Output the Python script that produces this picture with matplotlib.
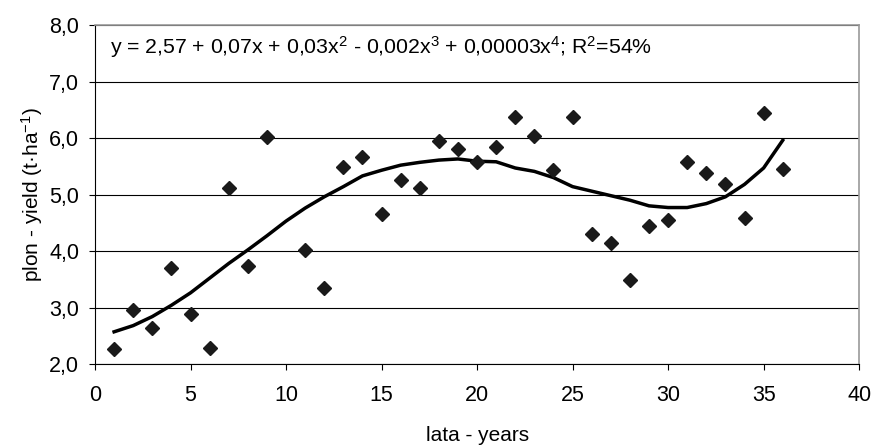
import matplotlib
matplotlib.use('Agg')
import matplotlib.pyplot as plt

plt.rcParams['font.family'] = ['Liberation Sans', 'DejaVu Sans']
plt.rcParams['mathtext.fontset'] = 'custom'
plt.rcParams['mathtext.rm'] = 'Liberation Sans'
plt.rcParams['mathtext.it'] = 'Liberation Sans'

# data
years = [1, 2, 3, 4, 5, 6, 7, 8, 9, 11, 12, 13, 14, 15, 16, 17, 18, 19, 20,
         21, 22, 23, 24, 25, 26, 27, 28, 29, 30, 31, 32, 33, 34, 35, 36]
yields = [2.27, 2.96, 2.64, 3.70, 2.88, 2.28, 5.11, 3.73, 6.02, 4.02, 3.35,
          5.49, 5.67, 4.65, 5.25, 5.11, 5.95, 5.81, 5.57, 5.85, 6.38, 6.03,
          5.43, 6.38, 4.30, 4.15, 3.49, 4.44, 4.55, 5.57, 5.39, 5.18, 4.58,
          6.45, 5.46]

# trend line (4th degree polynomial) as drawn in the chart
trend_x = list(range(1, 37))
trend_y = [2.57, 2.68, 2.84, 3.04, 3.26, 3.52, 3.78, 4.02, 4.27, 4.53, 4.76,
           4.96, 5.14, 5.33, 5.43, 5.52, 5.57, 5.61, 5.63, 5.59, 5.58, 5.47,
           5.41, 5.30, 5.14, 5.06, 4.98, 4.90, 4.80, 4.77, 4.77, 4.84, 4.96,
           5.18, 5.47, 5.96]

eq = (r'y = 2,57 + 0,07x + 0,03x$^{2}$ - 0,002x$^{3}$ + 0,00003x$^{4}$; '
      r'R$^{2}$=54%')

fig = plt.figure(figsize=(8.74, 4.48), dpi=100)
ax = fig.add_axes([0.1087, 0.1875, 0.8743, 0.7565])

ax.set_xlim(0, 40)
ax.set_ylim(2, 8)
ax.set_xticks(range(0, 41, 5))
ax.set_yticks(range(2, 9))
ax.set_yticklabels(['%d,0' % v for v in range(2, 9)])
ax.yaxis.grid(True, color='black', linewidth=0.8)
ax.set_axisbelow(True)

ax.plot(trend_x, trend_y, color='black', linewidth=2.5, zorder=2)
ax.plot(years, yields, linestyle='none', marker='D', markersize=7,
        color='#1a1a1a', zorder=3)

ax.text(0.8, 7.61, eq, fontsize=15.3, va='center', ha='left')

for s in ['top', 'right']:
    ax.spines[s].set_color('#999999')
    ax.spines[s].set_linewidth(1.2)
ax.tick_params(axis='both', direction='out', length=4.3, labelsize=15.5,
               width=0.8)
ax.tick_params(axis='x', pad=11)
ax.tick_params(axis='y', pad=7)

ax.set_xlabel('lata - years', fontsize=15, labelpad=14)
ax.set_ylabel('plon - yield (t·ha$^{-1}$)', fontsize=15, labelpad=3)

fig.savefig('out.png', dpi=100)
